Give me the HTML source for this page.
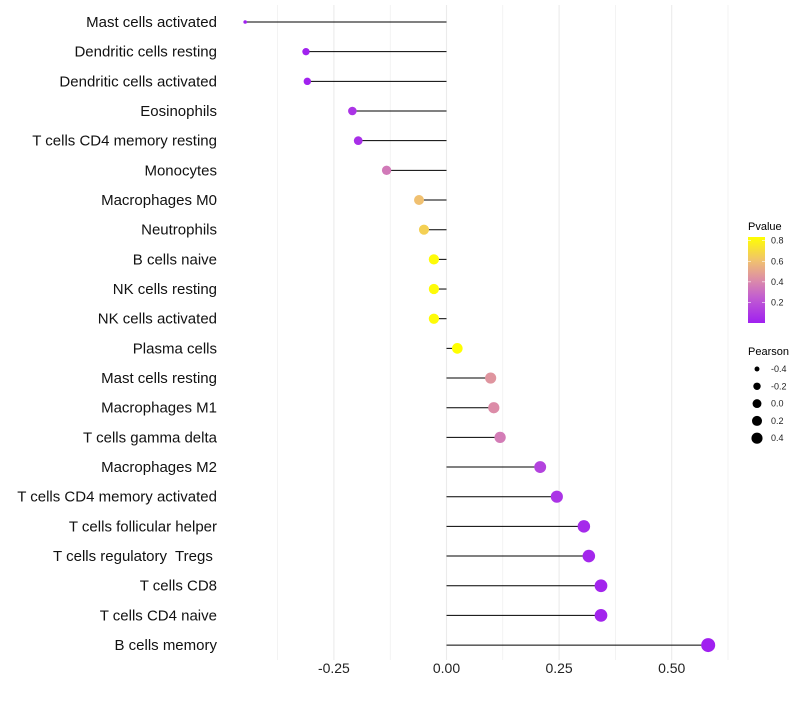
<!DOCTYPE html>
<html><head><meta charset="utf-8"><style>
body{margin:0;background:#fff}
svg text{font-family:"Liberation Sans",sans-serif;white-space:pre}
</style></head><body>
<svg id="chart" width="800" height="700">
<defs><linearGradient id="pg" x1="0" y1="1" x2="0" y2="0">
<stop offset="0" stop-color="#a020f0"/><stop offset="0.3" stop-color="#c25ed0"/><stop offset="0.5" stop-color="#dc8ca8"/><stop offset="0.72" stop-color="#f0c070"/><stop offset="1" stop-color="#ffff00"/></linearGradient></defs>
<g id="grid"></g><g id="marks"></g><g id="labels"></g>
<g>
<text x="748" y="230" font-size="11" fill="#000">Pvalue</text>
<rect x="748" y="237" width="17" height="86" fill="url(#pg)"/>
<g id="pticks"></g>
</g>
<g id="slegend">
<text x="748" y="355" font-size="11" fill="#000">Pearson</text>
</g>
</svg>
<script>
const categories=["Mast cells activated","Dendritic cells resting","Dendritic cells activated","Eosinophils","T cells CD4 memory resting","Monocytes","Macrophages M0","Neutrophils","B cells naive","NK cells resting","NK cells activated","Plasma cells","Mast cells resting","Macrophages M1","T cells gamma delta","Macrophages M2","T cells CD4 memory activated","T cells follicular helper","T cells regulatory  Tregs ","T cells CD8","T cells CD4 naive","B cells memory"];
const pearson=[-0.447,-0.312,-0.309,-0.209,-0.196,-0.133,-0.061,-0.050,-0.028,-0.028,-0.028,0.024,0.098,0.105,0.119,0.208,0.245,0.305,0.316,0.343,0.343,0.581];
const pvalue=[0.0,0.01,0.01,0.08,0.06,0.35,0.6,0.66,0.82,0.82,0.82,0.84,0.45,0.42,0.36,0.14,0.08,0.04,0.03,0.02,0.02,0.0];
const xTicks=[-0.25,0,0.25,0.5];
const xTickLabels=["-0.25","0.00","0.25","0.50"];
const pTicks=[0.2,0.4,0.6,0.8];
const sizeTicks=[-0.4,-0.2,0.0,0.2,0.4];
const NS="http://www.w3.org/2000/svg";
const x=v=>446.5+v*450.4;
const y=i=>22+i*29.67;
const r=v=>1.8+5.2*Math.sqrt(Math.max(0,(v+0.447)/1.028));
const stops=[[0,[160,32,240]],[0.25,[194,94,208]],[0.42,[220,140,168]],[0.6,[240,192,112]],[0.836,[255,255,0]]];
function col(p){for(let k=1;k<stops.length;k++){if(p<=stops[k][0]||k==stops.length-1){const a=stops[k-1],b=stops[k];let t=Math.max(0,Math.min(1,(p-a[0])/(b[0]-a[0])));return 'rgb('+a[1].map((c,j)=>Math.round(c+(b[1][j]-c)*t)).join(',')+')';}}}
function mk(t,at,parent){const e=document.createElementNS(NS,t);for(const k in at)e.setAttribute(k,at[k]);document.getElementById(parent).appendChild(e);return e;}
const grid=[-0.375,-0.25,-0.125,0,0.125,0.25,0.375,0.5,0.625];
grid.forEach(g=>{const l=mk('line',{x1:x(g),x2:x(g),y1:5,y2:660,stroke:'#ebebeb','stroke-width':xTicks.includes(g)?1.1:0.6},'grid');

});
xTicks.forEach((t,i)=>{const e=mk('text',{x:x(t),y:673,'font-size':14,'text-anchor':'middle',fill:'#222'},'labels');e.textContent=xTickLabels[i];

});
categories.forEach((c,i)=>{
const t=mk('text',{x:217,y:y(i)+5,'font-size':15,'text-anchor':'end',fill:'#111'},'labels');t.textContent=c;


const l=mk('line',{x1:x(0),x2:x(pearson[i]),y1:y(i),y2:y(i),stroke:'#000','stroke-width':1},'marks');


const d=mk('circle',{cx:x(pearson[i]),cy:y(i),r:r(pearson[i]),fill:col(pvalue[i])},'marks');


});
pTicks.forEach(p=>{const yy=323-p/0.836*86;
const tk=mk('text',{x:771,y:yy+3,'font-size':9,fill:'#222'},'pticks');tk.textContent=p.toFixed(1);


mk('line',{x1:748,x2:751,y1:yy,y2:yy,stroke:'#fff','stroke-width':0.6},'pticks');
mk('line',{x1:762,x2:765,y1:yy,y2:yy,stroke:'#fff','stroke-width':0.6},'pticks');});
sizeTicks.forEach((s,i)=>{const yy=369+i*17.3;
const c=mk('circle',{cx:757,cy:yy,r:r(s)*0.85,fill:'#000'},'slegend');


const t=mk('text',{x:771,y:yy+3,'font-size':9,fill:'#222'},'slegend');t.textContent=s.toFixed(1);

});
</script>
</body></html>
